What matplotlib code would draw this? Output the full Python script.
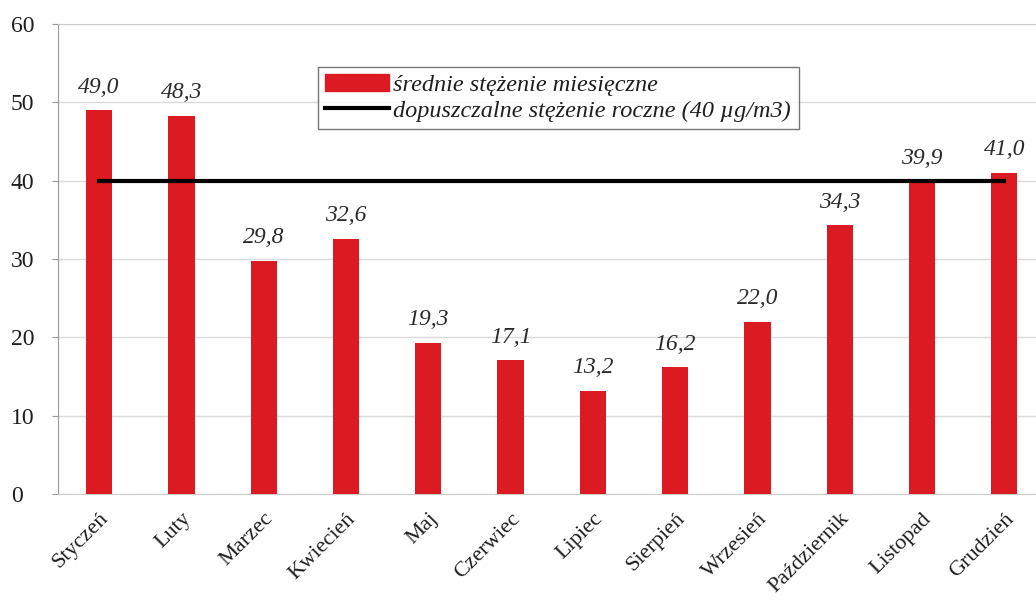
import numpy as np
import matplotlib.pyplot as plt
from matplotlib.lines import Line2D
from matplotlib.patches import Patch

months = ['Styczeń', 'Luty', 'Marzec', 'Kwiecień', 'Maj', 'Czerwiec',
          'Lipiec', 'Sierpień', 'Wrzesień', 'Październik', 'Listopad', 'Grudzień']
monthly = [49.0, 48.3, 29.8, 32.6, 19.3, 17.1, 13.2, 16.2, 22.0, 34.3, 39.9, 41.0]
limit = 40
yticks = [0, 10, 20, 30, 40, 50, 60]

plt.rcParams['font.family'] = ['Liberation Serif', 'DejaVu Serif']

fig = plt.figure(figsize=(10.36, 6.04), dpi=100)
ax = fig.add_axes([58 / 1036, 110 / 604, 978 / 1036, 470 / 604])

x = np.arange(len(months))
ax.bar(x, monthly, width=0.32, color='#dc1a22', zorder=3)
ax.plot([x[0], x[-1]], [limit, limit], color='black', lw=3, zorder=4)

for xi, v in zip(x, monthly):
    ax.text(xi, v + 1.6, f'{v:.1f}'.replace('.', ','), ha='center', va='bottom',
            fontsize=17, style='italic', color='#2a2a2a')

ax.set_xlim(-0.5, 11.385)
ax.set_ylim(0, 60)
ax.set_yticks(yticks)
ax.set_yticklabels([str(t) for t in yticks], fontsize=17, color='#1e1e1e')
ax.set_xticks(x)
ax.set_xticklabels(months, rotation=45, ha='right', rotation_mode='anchor',
                   fontsize=16, color='#1e1e1e')
ax.tick_params(axis='x', length=0, pad=11)
ax.tick_params(axis='y', length=4, color='#999999', pad=30)
for lbl in ax.get_yticklabels():
    lbl.set_horizontalalignment('left')

ax.grid(axis='y', color='#dadada', lw=1, zorder=0)
ax.spines['right'].set_visible(False)
ax.spines['left'].set_color('#999999')
ax.spines['top'].set_color('#cccccc')
ax.spines['bottom'].set_color('#cccccc')

handles = [Patch(color='#dc1a22'), Line2D([0], [0], color='black', lw=3)]
labels = ['średnie stężenie miesięczne', 'dopuszczalne stężenie roczne (40 µg/m3)']
leg = ax.legend(handles, labels, loc='upper left', bbox_to_anchor=(0.266, 0.9085),
                prop={'style': 'italic', 'size': 17.5}, frameon=True, fancybox=False,
                edgecolor='#555555', handlelength=2.6, handletextpad=0.2,
                borderpad=0.3, labelspacing=0.15, borderaxespad=0)
leg.get_frame().set_linewidth(1)
for t in leg.get_texts():
    t.set_color('#1e1e1e')

fig.savefig('out.png', dpi=100)
